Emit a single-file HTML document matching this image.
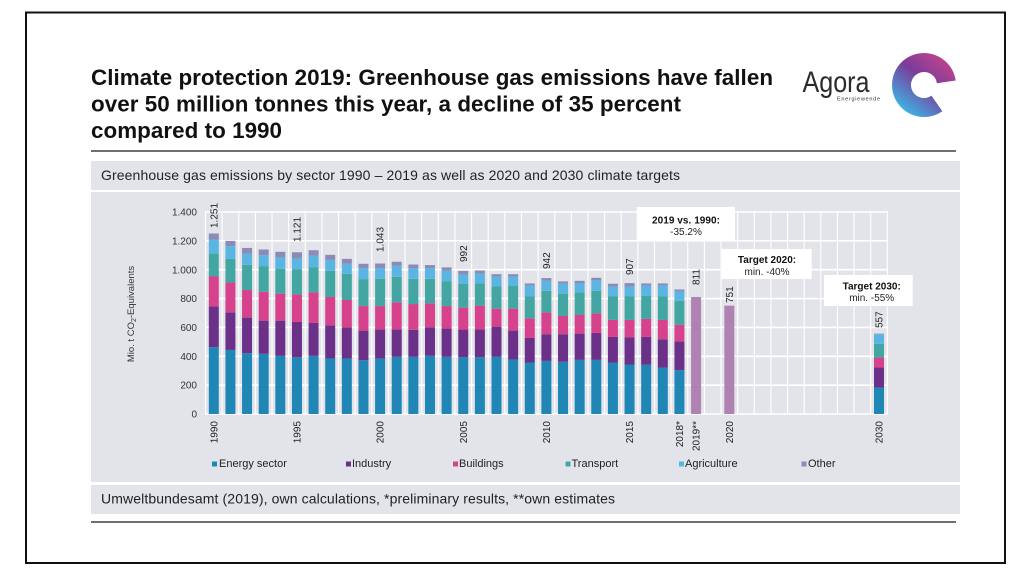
<!DOCTYPE html>
<html>
<head>
<meta charset="utf-8">
<style>
html,body{margin:0;padding:0;background:#fff;}
svg{display:block;}
text{font-family:"Liberation Sans",Arial,sans-serif;}
</style>
</head>
<body>
<svg width="1024" height="576" viewBox="0 0 1024 576" xmlns="http://www.w3.org/2000/svg">
<defs>
<linearGradient id="lg" gradientUnits="userSpaceOnUse" x1="956" y1="56" x2="908" y2="116">
<stop offset="0" stop-color="#d2468c"/>
<stop offset="0.5" stop-color="#7b3c99"/>
<stop offset="1" stop-color="#3cb7e8"/>
</linearGradient>
</defs>
<rect x="0" y="0" width="1024" height="576" fill="#fff"/>
<rect x="26" y="12.5" width="979" height="550.5" fill="#fff" stroke="#111" stroke-width="2"/>

<!-- Title -->
<g font-weight="bold" font-size="22.4" fill="#111">
<text x="91" y="85" textLength="682">Climate protection 2019: Greenhouse gas emissions have fallen</text>
<text x="91" y="111.5" textLength="590">over 50 million tonnes this year, a decline of 35 percent</text>
<text x="91" y="138" textLength="191">compared to 1990</text>
</g>

<!-- Logo -->
<text x="802.5" y="92" font-size="30" fill="#2b2b2b" textLength="67" lengthAdjust="spacingAndGlyphs">Agora</text>
<text x="837" y="100.5" font-size="5.5" fill="#333" textLength="43">Energiewende</text>
<path d="M 946.28 81.87 A 22.5 22.5 0 1 0 936.9 103.43" fill="none" stroke="url(#lg)" stroke-width="19"/>

<line x1="91" y1="151" x2="956" y2="151" stroke="#6f6f6f" stroke-width="2"/>

<!-- Bands -->
<rect x="91" y="161" width="869" height="29" fill="#e3e4e9"/>
<text x="101" y="180" font-size="14" fill="#222" textLength="579">Greenhouse gas emissions by sector 1990 – 2019 as well as 2020 and 2030 climate targets</text>
<rect x="91" y="192" width="869" height="290" fill="#e3e4e9"/>
<rect x="91" y="485" width="869" height="29" fill="#e3e4e9"/>
<text x="101" y="503.5" font-size="14" fill="#222" textLength="514">Umweltbundesamt (2019), own calculations, *preliminary results, **own estimates</text>
<line x1="91" y1="522" x2="956" y2="522" stroke="#6f6f6f" stroke-width="2"/>

<!-- Gridlines -->
<path fill="none" stroke="#fff" stroke-width="1.1" d="M205.5 212V414M222.13 212V414M238.76 212V414M255.39 212V414M272.02 212V414M288.65 212V414M305.28 212V414M321.91 212V414M338.54 212V414M355.17 212V414M371.8 212V414M388.43 212V414M405.06 212V414M421.69 212V414M438.32 212V414M454.95 212V414M471.58 212V414M488.21 212V414M504.84 212V414M521.47 212V414M538.1 212V414M554.73 212V414M571.36 212V414M587.99 212V414M604.62 212V414M621.25 212V414M637.88 212V414M654.51 212V414M671.14 212V414M687.77 212V414M704.4 212V414M721.03 212V414M737.66 212V414M754.29 212V414M770.92 212V414M787.55 212V414M804.18 212V414M820.81 212V414M837.44 212V414M854.07 212V414M870.7 212V414M887.33 212V414"/>
<path fill="none" stroke="#fff" stroke-width="1.6" d="M205 212H888M205 240.86H888M205 269.71H888M205 298.57H888M205 327.43H888M205 356.29H888M205 385.14H888M205 414H888"/>

<!-- Y axis labels -->
<g font-size="10" fill="#333" text-anchor="end">
<text x="197" y="215.6">1.400</text>
<text x="197" y="244.5">1.200</text>
<text x="197" y="273.3">1.000</text>
<text x="197" y="302.2">800</text>
<text x="197" y="331">600</text>
<text x="197" y="359.9">400</text>
<text x="197" y="388.7">200</text>
<text x="197" y="417.6">0</text>
</g>
<text transform="translate(134,314) rotate(-90)" text-anchor="middle" font-size="9.5" fill="#333">Mio. t CO<tspan font-size="7" dy="2">2</tspan><tspan dy="-2">-Equivalents</tspan></text>

<!-- Bars -->
<g transform="translate(208.8,414) scale(16.63,-0.14429)">
<g fill="#1f86b6">
<rect x="0" y="0" width=".601" height="463"/><rect x="1" y="0" width=".601" height="444"/><rect x="2" y="0" width=".601" height="421"/><rect x="3" y="0" width=".601" height="417"/><rect x="4" y="0" width=".601" height="403"/><rect x="5" y="0" width=".601" height="394"/><rect x="6" y="0" width=".601" height="403"/><rect x="7" y="0" width=".601" height="385"/><rect x="8" y="0" width=".601" height="385"/><rect x="9" y="0" width=".601" height="373"/><rect x="10" y="0" width=".601" height="385"/><rect x="11" y="0" width=".601" height="396"/><rect x="12" y="0" width=".601" height="396"/><rect x="13" y="0" width=".601" height="403"/><rect x="14" y="0" width=".601" height="396"/><rect x="15" y="0" width=".601" height="394"/><rect x="16" y="0" width=".601" height="394"/><rect x="17" y="0" width=".601" height="396"/><rect x="18" y="0" width=".601" height="378"/><rect x="19" y="0" width=".601" height="357"/><rect x="20" y="0" width=".601" height="368"/><rect x="21" y="0" width=".601" height="362"/><rect x="22" y="0" width=".601" height="375"/><rect x="23" y="0" width=".601" height="375"/><rect x="24" y="0" width=".601" height="357"/><rect x="25" y="0" width=".601" height="343"/><rect x="26" y="0" width=".601" height="341"/><rect x="27" y="0" width=".601" height="322"/><rect x="28" y="0" width=".601" height="304"/><rect x="40" y="0" width=".601" height="184"/>
</g>
<g fill="#6b3189">
<rect x="0" y="463" width=".601" height="283"/><rect x="1" y="444" width=".601" height="261"/><rect x="2" y="421" width=".601" height="247"/><rect x="3" y="417" width=".601" height="230"/><rect x="4" y="403" width=".601" height="244"/><rect x="5" y="394" width=".601" height="244"/><rect x="6" y="403" width=".601" height="228"/><rect x="7" y="385" width=".601" height="230"/><rect x="8" y="385" width=".601" height="214"/><rect x="9" y="373" width=".601" height="205"/><rect x="10" y="385" width=".601" height="202"/><rect x="11" y="396" width=".601" height="191"/><rect x="12" y="396" width=".601" height="187"/><rect x="13" y="403" width=".601" height="196"/><rect x="14" y="396" width=".601" height="196"/><rect x="15" y="394" width=".601" height="191"/><rect x="16" y="394" width=".601" height="193"/><rect x="17" y="396" width=".601" height="207"/><rect x="18" y="378" width=".601" height="200"/><rect x="19" y="357" width=".601" height="170"/><rect x="20" y="368" width=".601" height="185"/><rect x="21" y="362" width=".601" height="191"/><rect x="22" y="375" width=".601" height="182"/><rect x="23" y="375" width=".601" height="187"/><rect x="24" y="357" width=".601" height="177"/><rect x="25" y="343" width=".601" height="187"/><rect x="26" y="341" width=".601" height="193"/><rect x="27" y="322" width=".601" height="196"/><rect x="28" y="304" width=".601" height="198"/><rect x="40" y="184" width=".601" height="138"/>
</g>
<g fill="#d6428b">
<rect x="0" y="746" width=".601" height="207"/><rect x="1" y="705" width=".601" height="207"/><rect x="2" y="668" width=".601" height="191"/><rect x="3" y="647" width=".601" height="200"/><rect x="4" y="647" width=".601" height="187"/><rect x="5" y="638" width=".601" height="191"/><rect x="6" y="631" width=".601" height="212"/><rect x="7" y="615" width=".601" height="196"/><rect x="8" y="599" width=".601" height="191"/><rect x="9" y="578" width=".601" height="170"/><rect x="10" y="587" width=".601" height="161"/><rect x="11" y="587" width=".601" height="187"/><rect x="12" y="583" width=".601" height="179"/><rect x="13" y="599" width=".601" height="168"/><rect x="14" y="592" width=".601" height="156"/><rect x="15" y="585" width=".601" height="152"/><rect x="16" y="587" width=".601" height="164"/><rect x="17" y="603" width=".601" height="127"/><rect x="18" y="578" width=".601" height="152"/><rect x="19" y="527" width=".601" height="136"/><rect x="20" y="553" width=".601" height="152"/><rect x="21" y="553" width=".601" height="126"/><rect x="22" y="557" width=".601" height="129"/><rect x="23" y="562" width=".601" height="136"/><rect x="24" y="534" width=".601" height="118"/><rect x="25" y="530" width=".601" height="122"/><rect x="26" y="534" width=".601" height="125"/><rect x="27" y="518" width=".601" height="134"/><rect x="28" y="502" width=".601" height="117"/><rect x="40" y="322" width=".601" height="69"/>
</g>
<g fill="#44a6a2">
<rect x="0" y="953" width=".601" height="161"/><rect x="1" y="912" width=".601" height="163"/><rect x="2" y="859" width=".601" height="175"/><rect x="3" y="847" width=".601" height="178"/><rect x="4" y="834" width=".601" height="172"/><rect x="5" y="829" width=".601" height="175"/><rect x="6" y="843" width=".601" height="175"/><rect x="7" y="811" width=".601" height="181"/><rect x="8" y="790" width=".601" height="182"/><rect x="9" y="748" width=".601" height="187"/><rect x="10" y="748" width=".601" height="189"/><rect x="11" y="774" width=".601" height="177"/><rect x="12" y="762" width=".601" height="175"/><rect x="13" y="767" width=".601" height="170"/><rect x="14" y="748" width=".601" height="173"/><rect x="15" y="737" width=".601" height="166"/><rect x="16" y="751" width=".601" height="154"/><rect x="17" y="730" width=".601" height="154"/><rect x="18" y="730" width=".601" height="157"/><rect x="19" y="663" width=".601" height="154"/><rect x="20" y="705" width=".601" height="149"/><rect x="21" y="679" width=".601" height="155"/><rect x="22" y="686" width=".601" height="157"/><rect x="23" y="698" width=".601" height="156"/><rect x="24" y="652" width=".601" height="165"/><rect x="25" y="652" width=".601" height="165"/><rect x="26" y="659" width=".601" height="161"/><rect x="27" y="652" width=".601" height="165"/><rect x="28" y="619" width=".601" height="166"/><rect x="40" y="391" width=".601" height="95"/>
</g>
<g fill="#5bb5e3">
<rect x="0" y="1114" width=".601" height="95"/><rect x="1" y="1075" width=".601" height="88"/><rect x="2" y="1034" width=".601" height="76"/><rect x="3" y="1025" width=".601" height="76"/><rect x="4" y="1006" width=".601" height="79"/><rect x="5" y="1004" width=".601" height="74"/><rect x="6" y="1018" width=".601" height="80"/><rect x="7" y="992" width=".601" height="76"/><rect x="8" y="972" width=".601" height="69"/><rect x="9" y="935" width=".601" height="76"/><rect x="10" y="937" width=".601" height="74"/><rect x="11" y="951" width=".601" height="76"/><rect x="12" y="937" width=".601" height="74"/><rect x="13" y="937" width=".601" height="74"/><rect x="14" y="921" width=".601" height="72"/><rect x="15" y="903" width=".601" height="64"/><rect x="16" y="905" width=".601" height="69"/><rect x="17" y="884" width=".601" height="67"/><rect x="18" y="887" width=".601" height="64"/><rect x="19" y="817" width=".601" height="72"/><rect x="20" y="854" width=".601" height="69"/><rect x="21" y="834" width=".601" height="69"/><rect x="22" y="843" width=".601" height="62"/><rect x="23" y="854" width=".601" height="72"/><rect x="24" y="817" width=".601" height="65"/><rect x="25" y="817" width=".601" height="65"/><rect x="26" y="820" width=".601" height="69"/><rect x="27" y="817" width=".601" height="72"/><rect x="28" y="785" width=".601" height="65"/><rect x="40" y="486" width=".601" height="67"/>
</g>
<g fill="#8a8cb7">
<rect x="0" y="1209" width=".601" height="42"/><rect x="1" y="1163" width=".601" height="37"/><rect x="2" y="1110" width=".601" height="41"/><rect x="3" y="1101" width=".601" height="39"/><rect x="4" y="1085" width=".601" height="39"/><rect x="5" y="1078" width=".601" height="43"/><rect x="6" y="1098" width=".601" height="37"/><rect x="7" y="1068" width=".601" height="35"/><rect x="8" y="1041" width=".601" height="34"/><rect x="9" y="1011" width=".601" height="30"/><rect x="10" y="1011" width=".601" height="32"/><rect x="11" y="1027" width=".601" height="28"/><rect x="12" y="1011" width=".601" height="25"/><rect x="13" y="1011" width=".601" height="21"/><rect x="14" y="993" width=".601" height="23"/><rect x="15" y="967" width=".601" height="25"/><rect x="16" y="974" width=".601" height="21"/><rect x="17" y="951" width=".601" height="18"/><rect x="18" y="951" width=".601" height="18"/><rect x="19" y="889" width=".601" height="16"/><rect x="20" y="923" width=".601" height="19"/><rect x="21" y="903" width=".601" height="16"/><rect x="22" y="905" width=".601" height="18"/><rect x="23" y="926" width=".601" height="18"/><rect x="24" y="882" width=".601" height="21"/><rect x="25" y="882" width=".601" height="25"/><rect x="26" y="889" width=".601" height="16"/><rect x="27" y="889" width=".601" height="16"/><rect x="28" y="850" width=".601" height="13"/><rect x="40" y="553" width=".601" height="4"/>
</g>
<g fill="#ae83b3">
<rect x="29" y="0" width=".601" height="811"/><rect x="31" y="0" width=".601" height="751"/>
</g>
</g>

<!-- Data labels -->
<g font-size="10" fill="#222">
<text transform="translate(217.4,228) rotate(-90)">1.251</text>
<text transform="translate(300.5,242) rotate(-90)">1.121</text>
<text transform="translate(383.7,252) rotate(-90)">1.043</text>
<text transform="translate(466.8,262) rotate(-90)">992</text>
<text transform="translate(550,269) rotate(-90)">942</text>
<text transform="translate(633.1,275) rotate(-90)">907</text>
<text transform="translate(699.7,285) rotate(-90)">811</text>
<text transform="translate(732.9,303) rotate(-90)">751</text>
<text transform="translate(882.6,328) rotate(-90)">557</text>
</g>

<!-- X labels -->
<g font-size="10" fill="#222" text-anchor="end">
<text transform="translate(217.4,421) rotate(-90)">1990</text>
<text transform="translate(300.5,421) rotate(-90)">1995</text>
<text transform="translate(383.7,421) rotate(-90)">2000</text>
<text transform="translate(466.8,421) rotate(-90)">2005</text>
<text transform="translate(550,421) rotate(-90)">2010</text>
<text transform="translate(633.1,421) rotate(-90)">2015</text>
<text transform="translate(683,421) rotate(-90)">2018*</text>
<text transform="translate(699.7,421) rotate(-90)">2019**</text>
<text transform="translate(732.9,421) rotate(-90)">2020</text>
<text transform="translate(882.6,421) rotate(-90)">2030</text>
</g>

<!-- Annotation boxes -->
<rect x="636.7" y="207" width="98.3" height="34" fill="#fff"/>
<text x="686" y="223.5" font-size="10" font-weight="bold" fill="#111" text-anchor="middle" textLength="68">2019 vs. 1990:</text>
<text x="686" y="235" font-size="10" fill="#222" text-anchor="middle">-35.2%</text>
<rect x="721.7" y="249" width="90" height="30" fill="#fff"/>
<text x="767" y="263" font-size="10" font-weight="bold" fill="#111" text-anchor="middle">Target 2020:</text>
<text x="767" y="275" font-size="10" fill="#222" text-anchor="middle">min. -40%</text>
<rect x="824" y="275" width="88.7" height="31" fill="#fff"/>
<text x="871.7" y="289.3" font-size="10" font-weight="bold" fill="#111" text-anchor="middle">Target 2030:</text>
<text x="871.7" y="301" font-size="10" fill="#222" text-anchor="middle">min. -55%</text>

<!-- Legend -->
<g font-size="11" fill="#222">
<rect x="212" y="461.5" width="5" height="5" fill="#1f86b6"/><text x="219" y="467">Energy sector</text>
<rect x="346" y="461.5" width="5" height="5" fill="#6b3189"/><text x="352" y="467">Industry</text>
<rect x="453" y="461.5" width="5" height="5" fill="#d6428b"/><text x="459" y="467">Buildings</text>
<rect x="565.5" y="461.5" width="5" height="5" fill="#44a6a2"/><text x="571.5" y="467">Transport</text>
<rect x="679" y="461.5" width="5" height="5" fill="#5bb5e3"/><text x="685" y="467">Agriculture</text>
<rect x="801.5" y="461.5" width="5" height="5" fill="#8a8cb7"/><text x="808" y="467">Other</text>
</g>
</svg>
</body>
</html>
